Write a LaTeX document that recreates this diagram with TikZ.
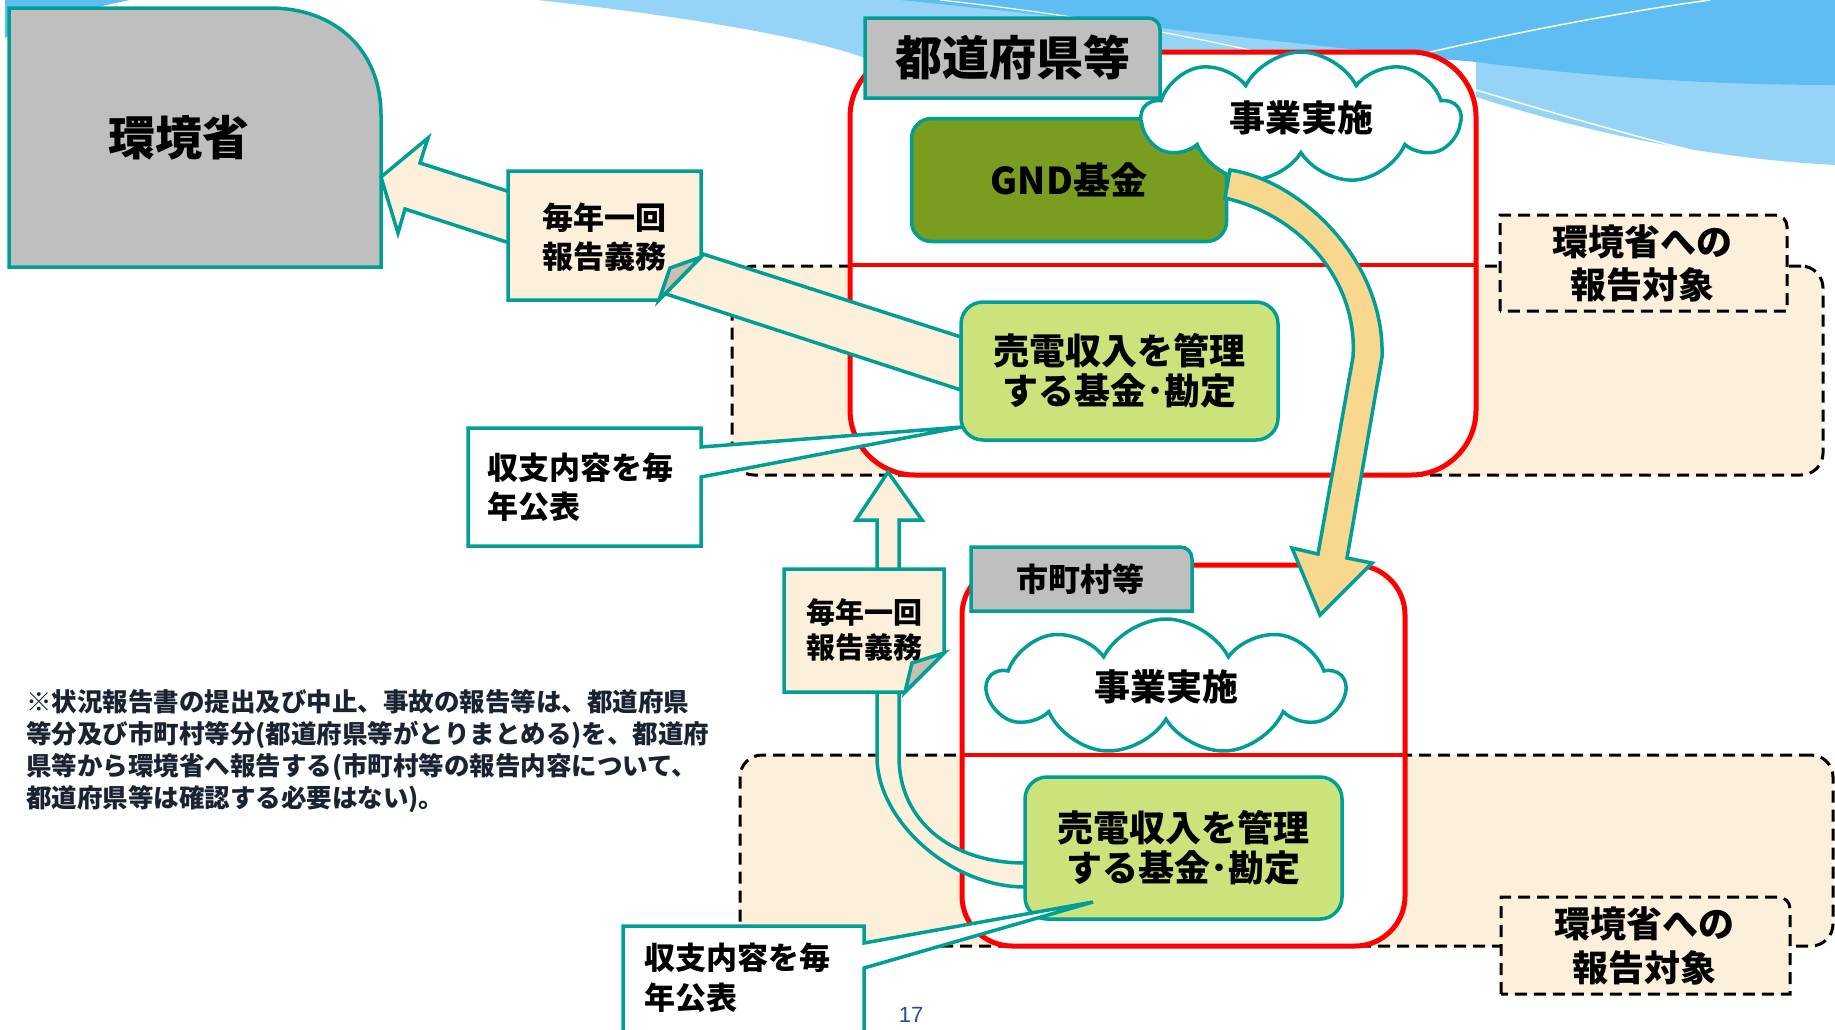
\documentclass[tikz,border=0pt]{standalone}
\usepackage{fontspec}
\setmainfont{Noto Sans CJK JP}
\newfontfamily\pgnumfont{Liberation Sans}
\usetikzlibrary{shapes.symbols}
\definecolor{tealc}{RGB}{0,158,150}
\definecolor{creamc}{RGB}{253,240,218}
\definecolor{grayc}{RGB}{191,191,191}
\definecolor{olivec}{RGB}{122,156,31}
\definecolor{lgreenc}{RGB}{204,226,122}
\definecolor{yelc}{RGB}{248,216,142}
\definecolor{foldc}{RGB}{201,192,176}
\definecolor{bluedk}{RGB}{94,190,243}
\definecolor{bluelt}{RGB}{150,212,247}
\definecolor{navyc}{RGB}{25,35,50}
\definecolor{pagec}{RGB}{31,78,160}
\definecolor{redc}{RGB}{255,0,0}
\newcommand{\myfs}[2]{\fontsize{#1}{#2}\selectfont\bfseries}
\begin{document}
\begin{tikzpicture}[x=1pt,y=-1pt,
  tl/.style={draw=tealc, line width=3.5pt, line join=miter},
  box/.style={tl, rectangle, inner sep=0pt, outer sep=0pt, align=center},
  redbox/.style={draw=redc, line width=5pt, fill=white, rectangle, inner sep=0pt, outer sep=0pt},
  region/.style={draw=black, line width=3pt, dash pattern=on 12pt off 7pt, fill=creamc, rectangle, inner sep=0pt, outer sep=0pt, rounded corners=22pt},
  rdash/.style={draw=black, line width=3pt, dash pattern=on 12pt off 7pt, fill=creamc},
  puff/.style={cloud, cloud puffs=9, cloud puff arc=125, cloud ignores aspect, tl, fill=white, inner sep=0pt, align=center},
  txt/.style={inner sep=0pt, outer sep=0pt, align=center, text=black},
  divider/.style={draw=redc, line width=4pt},
]
\useasboundingbox (0,0) rectangle (1835,1029);
\clip (0,0) rectangle (1835,1029);
% background waves
\fill[bluedk] (5,0) -- (130,0) .. controls (80,10) and (30,25) .. (5,38) -- cycle;
\fill[bluelt] (537,0) .. controls (700,18) and (820,40) .. (870,60) -- (1476,60) -- (1476,97) .. controls (1580,130) and (1700,158) .. (1835,165) -- (1835,0) -- cycle;
\fill[bluedk] (900,0) .. controls (1100,20) and (1300,45) .. (1476,62) .. controls (1600,78) and (1720,85) .. (1835,85) -- (1835,0) -- cycle;
\draw[white, line width=1.2pt] (940,0) .. controls (1050,12) and (1150,28) .. (1250,50);
\draw[white, line width=1.5pt] (1430,52) .. controls (1550,25) and (1650,8) .. (1710,0);
\draw[white, line width=1.5pt] (1476,90) .. controls (1560,115) and (1630,135) .. (1690,150);
% Ministry box
\path[tl, fill=grayc] (9,267) -- (9,8) -- (270,8) .. controls (335,8) and (381,50) .. (381,115) -- (381,267) -- cycle;
\node[txt, font=\myfs{47}{52}] (moe) at (179,138) {環境省};
% dashed report regions
\node[region, minimum width=1091, minimum height=209] (regA) at (1277.5,370.5) {};
\node[region, minimum width=1093, minimum height=191] (regB) at (1286.5,850.5) {};
% red boxes
\node[redbox, rounded corners=65pt, minimum width=626, minimum height=423] (prefbox) at (1163,263.5) {};
\draw[divider] (prefbox.west |- 0,265) -- (prefbox.east |- 0,265);
\node[redbox, rounded corners=50pt, minimum width=443, minimum height=381] (munibox) at (1183.5,755.5) {};
\draw[divider] (munibox.west |- 0,755) -- (munibox.east |- 0,755);
% labels
\path[tl, fill=grayc] (865,98) -- (865,18) -- (1148,18) .. controls (1155,18) and (1160,23) .. (1160,30) -- (1160,98) -- cycle;
\node[txt, font=\myfs{47}{52}] (preflabel) at (1013,58) {都道府県等};
\path[tl, fill=grayc] (971,611) -- (971,547) -- (1180,547) .. controls (1187,547) and (1192,552) .. (1192,559) -- (1192,611) -- cycle;
\node[txt, font=\myfs{32}{36}] (munilabel) at (1080,579) {市町村等};
% report labels
\path[rdash] (1500,311) -- (1500,215) -- (1775,215) .. controls (1782,215) and (1787,220) .. (1787,227) -- (1787,311) -- cycle;
\node[txt, font=\myfs{36}{43}] (rptA) at (1642,263.5) {環境省への\\報告対象};
\path[rdash] (1501,994) -- (1501,897) -- (1778,897) .. controls (1785,897) and (1790,902) .. (1790,909) -- (1790,994) -- cycle;
\node[txt, font=\myfs{36}{44}] (rptB) at (1644,946) {環境省への\\報告対象};
% GND fund
\node[box, fill=olivec, rounded corners=20pt, minimum width=315, minimum height=123, font=\myfs{37}{40}] (gnd) at (1069,180) {GND基金};
% clouds
\node[puff, minimum width=318, minimum height=132, font=\myfs{36}{40}] (cloudA) at (1301,118) {事業実施};
\node[puff, minimum width=356, minimum height=136, font=\myfs{36}{40}] (cloudB) at (1166,687) {事業実施};
% yellow arrow GND -> municipality
\path[tl, fill=yelc] (1230,170) .. controls (1300,180) and (1385,260) .. (1382,357) -- (1347,558) -- (1372,563) -- (1320,615) -- (1292,548) -- (1318,554) -- (1353,357) .. controls (1358,280) and (1300,215) .. (1225,198) -- cycle;
% big arrow to ministry
\path[tl, fill=creamc] (381,177) -- (428,138) -- (420,163) -- (961,337) -- (961,390) -- (405,209) -- (398,233) -- cycle;
% upper fund box
\node[box, fill=lgreenc, rounded corners=22pt, minimum width=317, minimum height=138, font=\myfs{36}{40}] (fundA) at (1119.5,371) {売電収入を管理\\する基金･勘定};
% curved up arrow
\path[tl, fill=creamc] (1025,887) .. controls (950,887) and (877,820) .. (877,757) -- (877,520) -- (856,520) -- (888,472) -- (922,520) -- (899,520) -- (899,757) .. controls (899,820) and (950,863) .. (1025,863) -- cycle;
% lower fund box
\node[box, fill=lgreenc, rounded corners=22pt, minimum width=317, minimum height=142, font=\myfs{36}{40}] (fundB) at (1183.5,848) {売電収入を管理\\する基金･勘定};
% duty notes
\path[tl, fill=creamc] (508,171) -- (701,171) -- (701,257) -- (659,300) -- (508,300) -- cycle;
\path[tl, fill=foldc] (701,257) -- (670,268) -- (659,300) -- cycle;
\node[txt, font=\myfs{31}{39}] (dutyA) at (604.5,237.5) {毎年一回\\報告義務};
\path[tl, fill=creamc] (784,569) -- (944,569) -- (944,653) -- (905,692) -- (784,692) -- cycle;
\path[tl, fill=foldc] (944,653) -- (912,663) -- (905,692) -- cycle;
\node[txt, font=\myfs{29}{35}] (dutyB) at (864.5,629.5) {毎年一回\\報告義務};
% callouts
\path[tl, fill=white] (468,428) -- (701,428) -- (701,447) -- (962,427) -- (701,477) -- (701,546) -- (468,546) -- cycle;
\node[txt, anchor=west, align=left, font=\myfs{31}{39}] (pubA) at (487,487.5) {収支内容を毎\\年公表};
\path[tl, fill=white] (623,926) -- (864,926) -- (864,943) -- (1093,902) -- (864,968) -- (864,1040) -- (623,1040) -- cycle;
\node[txt, anchor=west, align=left, font=\myfs{31}{40}] (pubB) at (644,978) {収支内容を毎\\年公表};
% footnote
\node[txt, anchor=north west, align=left, text=navyc, font=\myfs{25.5}{32}] (note) at (26,689) {※状況報告書の提出及び中止、事故の報告等は、都道府県\\等分及び市町村等分(都道府県等がとりまとめる)を、都道府\\県等から環境省へ報告する(市町村等の報告内容について、\\都道府県等は確認する必要はない)。};
% page number
\node[inner sep=0pt, text=pagec, font=\pgnumfont\fontsize{22}{26}\selectfont] (pageno) at (911,1015) {17};
\end{tikzpicture}
\end{document}
